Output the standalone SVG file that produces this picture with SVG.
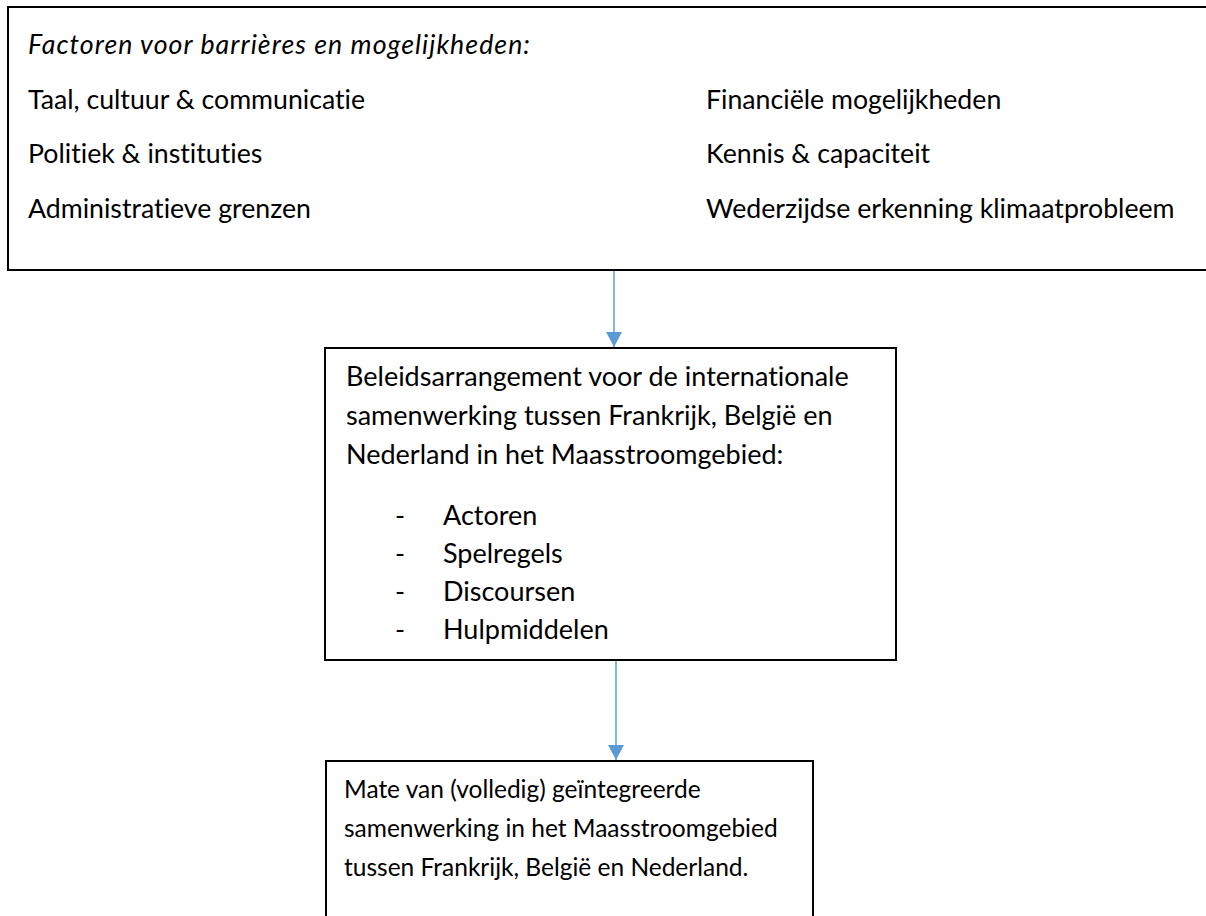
<svg xmlns="http://www.w3.org/2000/svg" width="1206" height="916" viewBox="0 0 1206 916">
  <style>
    .box { fill: #ffffff; stroke: #000000; stroke-width: 2; }
    .t { font-family: Lato, "Open Sans", sans-serif; font-size: 26.7px; fill: #000000; font-variant-ligatures: none; }
    .it { font-style: italic; }
    .mid { font-size: 27px; }
    .low { font-size: 24.5px; }
    .conn { stroke: #5B9BD5; stroke-width: 1.5; fill: none; }
  </style>
  <defs>
    <marker id="arrow" viewBox="0 0 15 16" refX="15" refY="8" markerWidth="15" markerHeight="16" markerUnits="userSpaceOnUse" orient="auto">
      <path d="M0,0 L15,8 L0,16 z" fill="#5B9BD5"/>
    </marker>
  </defs>
  <rect width="1206" height="916" fill="#ffffff"/>

  <!-- factors box (open to the right edge) -->
  <g id="factors">
    <path class="box" d="M1210,7 L8,7 L8,270 L1210,270"/>
    <text class="t it" x="28" y="54" textLength="502" lengthAdjust="spacing">Factoren voor barrières en mogelijkheden:</text>
    <text class="t" x="28" y="109">Taal, cultuur &amp; communicatie</text>
    <text class="t" x="28" y="163">Politiek &amp; instituties</text>
    <text class="t" x="28" y="218">Administratieve grenzen</text>
    <text class="t" x="706" y="109">Financiële mogelijkheden</text>
    <text class="t" x="706" y="163">Kennis &amp; capaciteit</text>
    <text class="t" x="706" y="218">Wederzijdse erkenning klimaatprobleem</text>
  </g>

  <!-- policy arrangement box -->
  <g id="arrangement">
    <rect class="box" x="325" y="348" width="571" height="312"/>
    <text class="t mid" x="346" y="386">Beleidsarrangement voor de internationale</text>
    <text class="t mid" x="346" y="425">samenwerking tussen Frankrijk, België en</text>
    <text class="t mid" x="346" y="464">Nederland in het Maasstroomgebied:</text>
    <text class="t mid" x="395" y="525">-</text>
    <text class="t mid" x="443" y="525">Actoren</text>
    <text class="t mid" x="395" y="563">-</text>
    <text class="t mid" x="443" y="563">Spelregels</text>
    <text class="t mid" x="395" y="601">-</text>
    <text class="t mid" x="443" y="601">Discoursen</text>
    <text class="t mid" x="395" y="639">-</text>
    <text class="t mid" x="443" y="639">Hulpmiddelen</text>
  </g>

  <!-- integration outcome box (runs past the bottom edge) -->
  <g id="outcome">
    <path class="box" d="M326,920 L326,761 L813,761 L813,920"/>
    <text class="t low" x="344" y="798">Mate van (volledig) geïntegreerde</text>
    <text class="t low" x="344" y="837">samenwerking in het Maasstroomgebied</text>
    <text class="t low" x="344" y="876">tussen Frankrijk, België en Nederland.</text>
  </g>

  <g id="connectors">
    <line class="conn" x1="614" y1="271" x2="614" y2="347" marker-end="url(#arrow)"/>
    <line class="conn" x1="616" y1="661" x2="616" y2="760" marker-end="url(#arrow)"/>
  </g>
</svg>
